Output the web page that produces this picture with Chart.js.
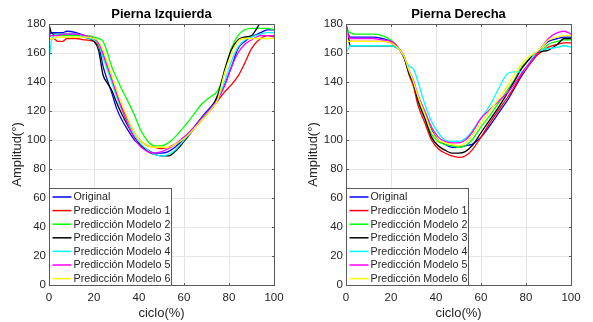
<!DOCTYPE html>
<html lang="es">
<head>
<meta charset="utf-8">
<title>Pierna Izquierda / Pierna Derecha</title>
<script src="https://cdn.jsdelivr.net/npm/chart.js@4.4.0/dist/chart.umd.min.js"></script>
<style>
  body { margin: 0; background: #fff; }
  .wrap { position: relative; width: 593px; height: 322px; }
  #izq { position: absolute; left: 0; top: 0; }
  #der { position: absolute; left: 296px; top: 0; }
</style>
</head>
<body>
<div class="wrap">
  <canvas id="izq" width="296" height="322"></canvas>
  <canvas id="der" width="297" height="322"></canvas>
</div>
<script>
  // ciclo(%) donde se leyeron los valores
  const ciclo = [0, 1, 2, 4, 6, 8, 12, 16, 20, 22, 24, 26, 28, 30, 32, 35, 38, 41, 44, 47, 50, 53, 56, 60, 64, 68, 72, 75, 78, 81, 84, 87, 90, 94, 97, 100];

  const nombres = ['Original', 'Predicción Modelo 1', 'Predicción Modelo 2', 'Predicción Modelo 3',
    'Predicción Modelo 4', 'Predicción Modelo 5', 'Predicción Modelo 6'];

  const ticksX = [0, 20, 40, 60, 80, 100];
  const ticksY = [0, 20, 40, 60, 80, 100, 120, 140, 160, 180];

  // Pierna Izquierda
  const izqOriginal = [172, 174, 174, 174, 174, 175, 174, 172, 170, 166, 151, 141, 132, 122, 115, 107, 100, 96, 93, 91, 91, 92, 95, 101, 108, 116, 123, 129, 138, 150, 163, 168, 171, 174, 176, 176];
  const izqModelo1 = [169, 170, 170, 168, 168, 170, 170, 169, 168, 165, 158, 150, 141, 132, 124, 114, 105, 99, 96, 95, 94, 95, 97, 101, 107, 114, 121, 127, 133, 138, 144, 153, 163, 170, 172, 171];
  const izqModelo2 = [171, 172, 172, 172, 172, 172, 172, 172, 171, 170, 168, 160, 150, 143, 136, 127, 117, 106, 99, 96, 96, 98, 102, 109, 117, 125, 130, 134, 146, 163, 172, 176, 177, 177, 177, 176];
  const izqModelo3 = [180, 174, 173, 173, 173, 173, 173, 171, 168, 162, 145, 139, 134, 126, 119, 110, 102, 96, 92, 90, 89, 89, 92, 99, 107, 115, 122, 131, 148, 162, 169, 171, 172, 181, 186, 190];
  const izqModelo4 = [154, 168, 172, 173, 173, 173, 173, 171, 169, 166, 157, 148, 139, 130, 122, 112, 103, 97, 93, 90, 89, 90, 93, 100, 107, 115, 122, 128, 140, 154, 164, 169, 171, 173, 174, 174];
  const izqModelo5 = [171, 172, 172, 172, 173, 173, 173, 172, 170, 167, 160, 151, 142, 132, 123, 111, 101, 95, 92, 91, 92, 94, 97, 102, 108, 115, 122, 128, 137, 150, 160, 166, 169, 172, 172, 172];
  const izqModelo6 = [169, 170, 170, 171, 171, 171, 171, 171, 170, 168, 162, 153, 144, 135, 126, 115, 105, 99, 96, 95, 95, 95, 97, 101, 107, 114, 121, 128, 146, 159, 168, 170, 170, 170, 170, 170];

  // Pierna Derecha
  const derOriginal = [180, 173, 171, 171, 171, 171, 171, 170, 168, 165, 162, 157, 147, 139, 130, 119, 107, 100, 97, 95, 95, 96, 97, 102, 110, 119, 128, 136, 144, 151, 157, 164, 168, 170, 171, 171];
  const derModelo1 = [180, 171, 168, 168, 168, 168, 168, 168, 167, 165, 162, 156, 145, 137, 124, 112, 100, 94, 91, 89, 88, 89, 93, 102, 112, 121, 130, 137, 145, 151, 157, 161, 164, 166, 167, 167];
  const derModelo2 = [180, 175, 174, 173, 173, 173, 173, 172, 169, 166, 162, 156, 146, 139, 128, 116, 104, 99, 97, 96, 95, 96, 100, 109, 117, 126, 135, 142, 150, 155, 159, 162, 166, 168, 169, 169];
  const derModelo3 = [180, 170, 165, 165, 165, 165, 165, 165, 165, 164, 162, 156, 146, 139, 127, 115, 102, 96, 93, 91, 91, 92, 96, 105, 114, 123, 133, 141, 149, 155, 160, 161, 162, 166, 170, 170];
  const derModelo4 = [160, 163, 165, 165, 165, 165, 165, 165, 165, 164, 162, 157, 151, 149, 140, 125, 113, 105, 100, 99, 99, 101, 106, 115, 124, 136, 146, 147, 147, 152, 160, 162, 163, 164, 165, 164];
  const derModelo5 = [180, 172, 170, 170, 170, 170, 170, 169, 168, 166, 162, 157, 148, 141, 131, 120, 109, 102, 99, 98, 98, 100, 105, 115, 121, 127, 133, 139, 146, 152, 158, 164, 170, 174, 175, 173];
  const derModelo6 = [178, 168, 168, 168, 168, 168, 168, 168, 167, 165, 162, 157, 148, 140, 130, 118, 106, 100, 98, 97, 96, 98, 103, 112, 120, 129, 138, 146, 152, 157, 160, 164, 169, 171, 172, 172];

  const colores = ['#0000ff', '#ff0000', '#00ff00', '#000000', '#00ffff', '#ff00ff', '#ffff00'];
  const fuente = "'Liberation Sans', Arial, sans-serif";
  const gris = '#262626';
  const borde = '#5a5a5a';

  // caja de los ejes (estilo matlab, cerrada por los 4 lados, marcas hacia dentro)
  const marcoPlugin = {
    id: 'marco',
    afterDatasetsDraw(chart) {
      const { ctx, chartArea: a, scales } = chart;
      const l = Math.round(a.left) + 0.5, t = Math.round(a.top) + 0.5;
      const r = l + Math.round(a.width), b = t + Math.round(a.height);
      const m = 2.5;
      ctx.save();
      ctx.strokeStyle = borde;
      ctx.lineWidth = 1;
      ctx.strokeRect(l, t, r - l, b - t);
      ctx.beginPath();
      ticksX.forEach(v => {
        const x = Math.round(scales.x.getPixelForValue(v)) + 0.5;
        ctx.moveTo(x, b); ctx.lineTo(x, b - m);
        ctx.moveTo(x, t); ctx.lineTo(x, t + m);
      });
      ticksY.forEach(v => {
        const y = Math.round(scales.y.getPixelForValue(v)) + 0.5;
        ctx.moveTo(l, y); ctx.lineTo(l + m, y);
        ctx.moveTo(r, y); ctx.lineTo(r - m, y);
      });
      ctx.stroke();
      ctx.restore();
    }
  };

  // leyenda dentro del area, abajo a la izquierda
  const leyendaPlugin = {
    id: 'leyenda',
    afterDraw(chart) {
      const { ctx, chartArea: a } = chart;
      const sets = chart.data.datasets;
      const w = 122, fila = 13.6, h = 97;
      const x0 = Math.round(a.left) + 0.5, y0 = Math.round(a.bottom - h) + 0.5;
      ctx.save();
      ctx.fillStyle = '#ffffff';
      ctx.fillRect(x0, y0, w, h);
      ctx.strokeStyle = borde;
      ctx.lineWidth = 1;
      ctx.strokeRect(x0, y0, w, h);
      ctx.font = '10.7px ' + fuente;
      ctx.textBaseline = 'middle';
      sets.forEach((ds, i) => {
        const y = y0 + 8.5 + i * fila;
        ctx.strokeStyle = ds.borderColor;
        ctx.lineWidth = 1.5;
        ctx.beginPath();
        ctx.moveTo(x0 + 3, y);
        ctx.lineTo(x0 + 22, y);
        ctx.stroke();
        ctx.fillStyle = gris;
        ctx.fillText(ds.label, x0 + 24, y + 0.5);
      });
      ctx.restore();
    }
  };

  function dibujar(id, titulo, series, anchoY) {
    const datasets = series.map((s, i) => ({
      label: nombres[i],
      data: ciclo.map((c, k) => ({ x: c, y: s[k] })),
      borderColor: colores[i],
      backgroundColor: colores[i],
      borderWidth: 1.3,
      pointRadius: 0,
      cubicInterpolationMode: 'monotone',
      order: series.length - i
    }));

    new Chart(document.getElementById(id), {
      type: 'line',
      data: { datasets },
      plugins: [marcoPlugin, leyendaPlugin],
      options: {
        responsive: false,
        animation: false,
        devicePixelRatio: 1,
        layout: { padding: { left: 0, right: 22, top: 0, bottom: 0 } },
        plugins: {
          legend: { display: false },
          tooltip: { enabled: false },
          title: {
            display: true,
            text: titulo,
            fullSize: false,
            color: '#000000',
            font: { family: fuente, size: 13, weight: 'bold' },
            padding: { top: 7, bottom: 1.4 }
          }
        },
        scales: {
          x: {
            type: 'linear',
            min: 0,
            max: 100,
            afterBuildTicks: s => { s.ticks = ticksX.map(v => ({ value: v })); },
            afterFit: s => { s.height = 37; },
            grid: { color: '#e6e6e6', drawTicks: false },
            border: { display: false },
            ticks: { color: gris, padding: 6, font: { family: fuente, size: 11.5 } },
            title: { display: true, text: 'ciclo(%)', color: gris, padding: { top: 0, bottom: 1 }, font: { family: fuente, size: 13 } }
          },
          y: {
            min: 0,
            max: 180,
            afterBuildTicks: s => { s.ticks = ticksY.map(v => ({ value: v })); },
            afterFit: s => { s.width = anchoY; },
            grid: { color: '#e6e6e6', drawTicks: false },
            border: { display: false },
            ticks: { color: gris, padding: 3, font: { family: fuente, size: 11.5 } },
            title: { display: true, text: 'Amplitud(°)', color: gris, padding: { top: 10, bottom: 0 }, font: { family: fuente, size: 13 } }
          }
        }
      }
    });
  }

  dibujar('izq', 'Pierna Izquierda',
    [izqOriginal, izqModelo1, izqModelo2, izqModelo3, izqModelo4, izqModelo5, izqModelo6], 49);
  dibujar('der', 'Pierna Derecha',
    [derOriginal, derModelo1, derModelo2, derModelo3, derModelo4, derModelo5, derModelo6], 50);
</script>
</body>
</html>
